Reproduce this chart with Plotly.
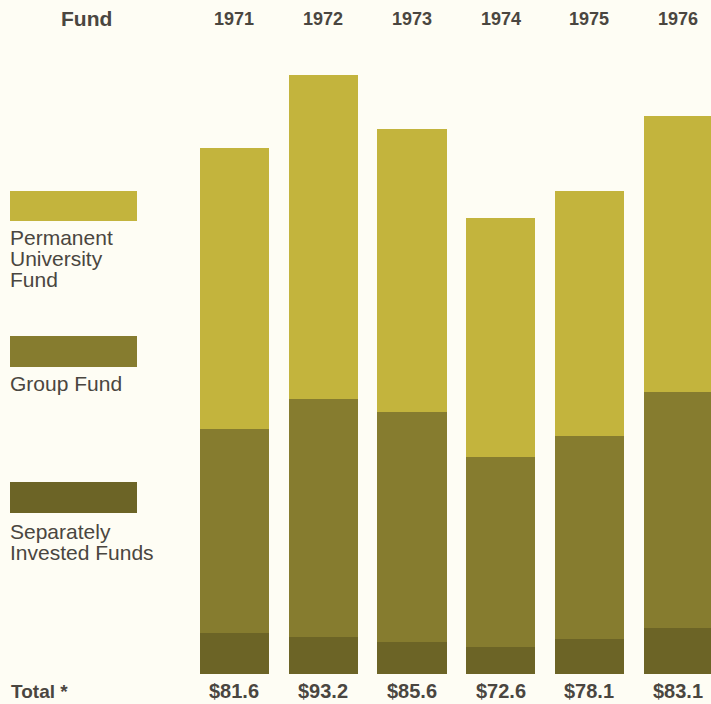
import plotly.graph_objects as go

years = [1971, 1972, 1973, 1974, 1975, 1976]
separately_invested = [6.4, 5.8, 5.0, 4.2, 5.4, 7.2]
group_fund = [31.7, 37.0, 35.8, 29.5, 31.6, 36.7]
permanent_univ = [43.7, 50.4, 44.0, 37.2, 38.1, 42.9]
totals = ["$81.6", "$93.2", "$85.6", "$72.6", "$78.1", "$83.1"]

C_PUF = "#C3B43D"
C_GRP = "#867C2F"
C_SIF = "#6C6426"
BG = "#FEFDF4"
TXT = "#4A4640"

W_FIG, H_FIG = 711, 704
L, R, T, B = 190, 711, 60, 674
PW, PH = R - L, B - T

def px(x):
    return (x - L) / PW

def py(y):
    return (B - y) / PH

fig = go.Figure()
for vals, col, name in [(separately_invested, C_SIF, "Separately Invested Funds"),
                        (group_fund, C_GRP, "Group Fund"),
                        (permanent_univ, C_PUF, "Permanent University Fund")]:
    fig.add_trace(go.Bar(x=years, y=vals, marker=dict(color=col, line=dict(width=0)),
                         width=0.78, name=name, showlegend=False))

ymax = PH / 6.43
fig.update_layout(
    width=W_FIG, height=H_FIG, barmode="stack",
    margin=dict(l=L, r=W_FIG - R, t=T, b=H_FIG - B, pad=0),
    paper_bgcolor=BG, plot_bgcolor=BG,
    xaxis=dict(range=[1970.5, 1976.37], visible=False, fixedrange=True),
    yaxis=dict(range=[0, ymax], visible=False, fixedrange=True),
    font=dict(family="Liberation Sans, Arial, sans-serif", color=TXT),
)

annotations = []
annotations.append(dict(x=px(86), y=py(19), xref="paper", yref="paper", text="<b>Fund</b>",
                        showarrow=False, xanchor="center", yanchor="middle",
                        font=dict(size=21, color=TXT)))
for yr, tot in zip(years, totals):
    annotations.append(dict(x=yr, y=py(19), xref="x", yref="paper", text=f"<b>{yr}</b>",
                            showarrow=False, xanchor="center", yanchor="middle",
                            font=dict(size=18, color=TXT)))
    annotations.append(dict(x=yr, y=py(691), xref="x", yref="paper", text=f"<b>{tot}</b>",
                            showarrow=False, xanchor="center", yanchor="middle",
                            font=dict(size=20, color=TXT)))
annotations.append(dict(x=px(9), y=py(691), xref="paper", yref="paper", text="<b>Total *</b>",
                        showarrow=False, xanchor="left", yanchor="middle",
                        font=dict(size=19, color=TXT)))

legend_items = [
    (C_PUF, 191, 221, ["Permanent", "University", "Fund"], 237),
    (C_GRP, 336, 367, ["Group Fund"], 383),
    (C_SIF, 482, 513, ["Separately", "Invested Funds"], 531),
]
shapes = []
for col, y0, y1, lines, ty in legend_items:
    shapes.append(dict(type="rect", xref="paper", yref="paper",
                       x0=px(10), x1=px(137), y0=py(y1), y1=py(y0),
                       fillcolor=col, line=dict(width=0), layer="above"))
    for i, line in enumerate(lines):
        annotations.append(dict(x=px(8), y=py(ty + 21 * i), xref="paper", yref="paper",
                                text=line, showarrow=False, xanchor="left", yanchor="middle",
                                font=dict(size=21, color=TXT)))

fig.update_layout(annotations=annotations, shapes=shapes)
fig.write_html("out.html")
